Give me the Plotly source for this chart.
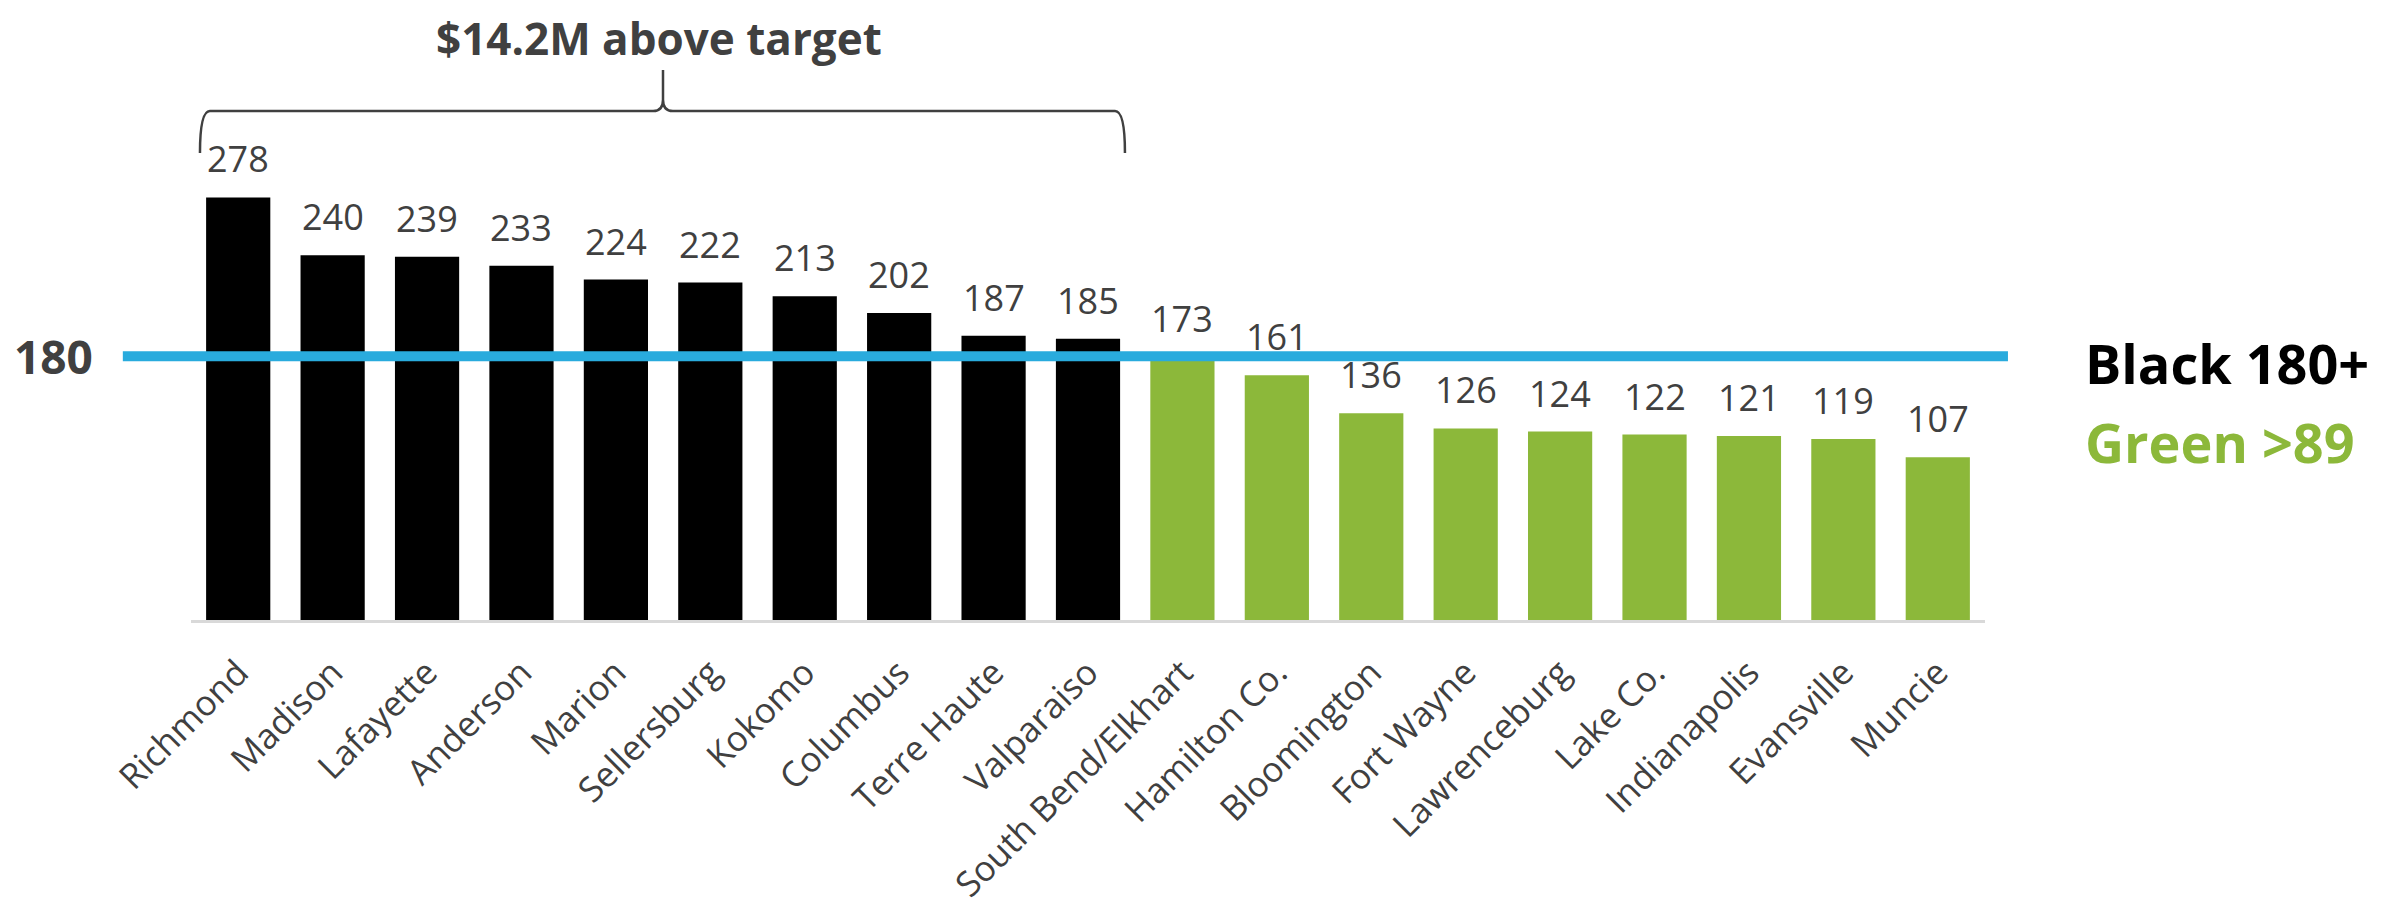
import plotly.graph_objects as go

# data
cities = ["Richmond", "Madison", "Lafayette", "Anderson", "Marion", "Sellersburg",
          "Kokomo", "Columbus", "Terre Haute", "Valparaiso", "South Bend/Elkhart",
          "Hamilton Co.", "Bloomington", "Fort Wayne", "Lawrenceburg", "Lake Co.",
          "Indianapolis", "Evansville", "Muncie"]
values = [278, 240, 239, 233, 224, 222, 213, 202, 187, 185, 173,
          161, 136, 126, 124, 122, 121, 119, 107]
target = 180
line_level = 173.5  # where the blue target line sits in the picture

BLACK = "#000000"
GREEN = "#8CB83A"
BLUE = "#29ABDD"
GREY = "#404040"

colors = [BLACK if v >= target else GREEN for v in values]

fig = go.Figure(go.Bar(
    x=cities,
    y=values,
    marker=dict(color=colors, line=dict(width=0)),
    hoverinfo="x+y",
))

# value labels above the bars
for city, v in zip(cities, values):
    fig.add_annotation(x=city, y=v, text=str(v), showarrow=False,
                       xanchor="center", yanchor="bottom", yshift=12,
                       font=dict(family="Open Sans", size=36, color=GREY))

# blue target line, runs past the plot on both sides
fig.add_shape(type="line", xref="paper", yref="y",
              x0=-0.038, x1=1.0128, y0=line_level, y1=line_level,
              line=dict(color=BLUE, width=10), layer="above")

# curly bracket over the bars above target
xl, xm, xr = 0.005, 0.2631, 0.5206
yb, yt, yp = 1.024, 1.116, 1.206
dx, dy = 0.0055, 0.025
brace = (f"M {xl},{yb} Q {xl},{yt} {xl+dx},{yt} L {xm-dx},{yt} "
         f"Q {xm},{yt} {xm},{yt+dy} L {xm},{yp} "
         f"M {xm},{yt+dy} Q {xm},{yt} {xm+dx},{yt} L {xr-dx},{yt} "
         f"Q {xr},{yt} {xr},{yb}")
fig.add_shape(type="path", xref="paper", yref="paper", path=brace,
              line=dict(color=GREY, width=2.5))

fig.add_annotation(text="$14.2M above target", xref="paper", yref="paper",
                   x=0.261, y=1.276, showarrow=False,
                   xanchor="center", yanchor="middle",
                   font=dict(family="Open Sans", size=44, color=GREY, weight="bold"))

fig.add_annotation(text=str(target), xref="paper", yref="y",
                   x=-0.0764, y=line_level, showarrow=False,
                   xanchor="center", yanchor="middle",
                   font=dict(family="Open Sans", size=46, color=GREY, weight="bold"))

fig.add_annotation(text="Black 180+", xref="paper", yref="paper",
                   x=1.0546, y=0.5636, showarrow=False,
                   xanchor="left", yanchor="middle",
                   font=dict(family="Open Sans", size=54, color=BLACK, weight="bold"))
fig.add_annotation(text="Green >89", xref="paper", yref="paper",
                   x=1.0546, y=0.390, showarrow=False,
                   xanchor="left", yanchor="middle",
                   font=dict(family="Open Sans", size=54, color=GREEN, weight="bold"))

# the page body has an 8px margin, so the figure is shrunk by that much
fig.update_layout(
    width=2373,
    height=897,
    margin=dict(l=183, r=396, t=156, b=285),
    plot_bgcolor="white",
    paper_bgcolor="white",
    bargap=0.32,
    showlegend=False,
    xaxis=dict(
        type="category",
        range=[-0.5, len(cities) - 0.5],
        showline=True,
        linecolor="#D9D9D9",
        linewidth=3,
        ticks="",
        tickangle=-45,
        ticklabelstandoff=15,
        tickfont=dict(family="Open Sans", size=35, color=GREY),
        showgrid=False,
        automargin=False,
    ),
    yaxis=dict(range=[0, 300], visible=False, showgrid=False, automargin=False),
)

fig.write_html("out.html")
